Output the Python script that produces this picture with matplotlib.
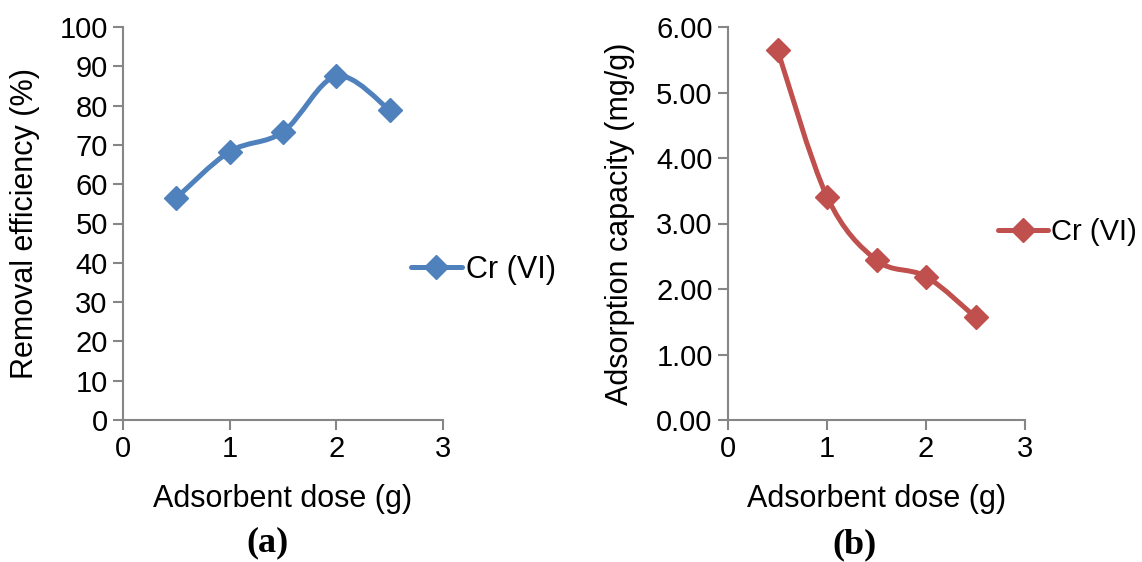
import matplotlib.pyplot as plt
import numpy as np
from matplotlib.path import Path
from matplotlib.patches import PathPatch
from matplotlib.lines import Line2D

plt.rcParams['font.family'] = ['Liberation Sans', 'DejaVu Sans']

dose = [0.5, 1.0, 1.5, 2.0, 2.5]
removal = [56.5, 68.3, 73.3, 87.5, 78.9]
capacity = [5.65, 3.41, 2.44, 2.19, 1.57]

x_ticks = [0, 1, 2, 3]
BLUE = '#4F81BD'
RED = '#C0504D'
GRAY = '#868686'
W, H = 1142, 562


def smooth_path(xs, ys):
    # excel-style smoothed line: bezier through points
    pts = np.column_stack([xs, ys])
    n = len(pts)
    verts = [pts[0]]
    codes = [Path.MOVETO]
    for i in range(n - 1):
        p0 = pts[i - 1] if i > 0 else pts[i]
        p1 = pts[i]
        p2 = pts[i + 1]
        p3 = pts[i + 2] if i + 2 < n else pts[i + 1]
        c1 = p1 + (p2 - p0) / 6.0
        c2 = p2 - (p3 - p1) / 6.0
        verts += [c1, c2, p2]
        codes += [Path.CURVE4] * 3
    return Path(verts, codes)


def px_axes(fig, x0, y0, x1, y1):
    return fig.add_axes([x0 / W, 1 - y1 / H, (x1 - x0) / W, (y1 - y0) / H])


def style(ax):
    for s in ['top', 'right']:
        ax.spines[s].set_visible(False)
    for s in ['left', 'bottom']:
        ax.spines[s].set_color(GRAY)
        ax.spines[s].set_linewidth(1.5)
    ax.tick_params(direction='out', length=7, width=1.5, color=GRAY,
                   labelsize=21, pad=4)
    ax.set_xlim(0, 3)
    ax.set_xticks(x_ticks)
    ax.set_xlabel('Adsorbent dose (g)', fontsize=22)
    ax.xaxis.set_label_coords(0.5, -0.163)


fig = plt.figure(figsize=(W / 100, H / 100), dpi=100)

# (a)
ax1 = px_axes(fig, 123, 27, 443, 420)
style(ax1)
ax1.set_ylim(0, 100)
ax1.set_yticks(range(0, 101, 10))
ax1.add_patch(PathPatch(smooth_path(dose, removal), fill=False,
                        edgecolor=BLUE, lw=3.6, capstyle='round'))
ax1.plot(dose, removal, 'D', color=BLUE, ms=12, clip_on=False)
ax1.set_ylabel('Removal efficiency (%)', fontsize=22, va='center')
ax1.yaxis.set_label_coords(-0.306, 0.5)
h1 = Line2D([], [], color=BLUE, lw=3.6, marker='D', ms=12,
            solid_capstyle='round')
ax1.legend([h1], ['Cr (VI)'], loc='center left', frameon=False,
           bbox_to_anchor=(383 / W, 1 - 270 / H), bbox_transform=fig.transFigure,
           fontsize=22, handlelength=1.7, handletextpad=0.1)
fig.text(268 / W, 1 - 543 / H, '(a)', family='Liberation Serif',
         weight='bold', fontsize=26, ha='center', va='center')

# (b)
ax2 = px_axes(fig, 728, 27, 1025, 420)
style(ax2)
ax2.set_ylim(0, 6)
ax2.set_yticks(np.arange(0, 6.01, 1))
ax2.set_yticklabels(['%.2f' % v for v in np.arange(0, 6.01, 1)])
ax2.add_patch(PathPatch(smooth_path(dose, capacity), fill=False,
                        edgecolor=RED, lw=3.6, capstyle='round'))
ax2.plot(dose, capacity, 'D', color=RED, ms=12, clip_on=False)
ax2.set_ylabel('Adsorption capacity (mg/g)', fontsize=22, va='center')
ax2.yaxis.set_label_coords(-0.364, 0.5)
h2 = Line2D([], [], color=RED, lw=3.6, marker='D', ms=12,
            solid_capstyle='round')
ax2.legend([h2], ['Cr (VI)'], loc='center left', frameon=False,
           bbox_to_anchor=(972 / W, 1 - 232 / H), bbox_transform=fig.transFigure,
           fontsize=21, handlelength=1.7, handletextpad=0.1)
fig.text(855 / W, 1 - 545 / H, '(b)', family='Liberation Serif',
         weight='bold', fontsize=26, ha='center', va='center')

fig.savefig('out.png', dpi=100)
